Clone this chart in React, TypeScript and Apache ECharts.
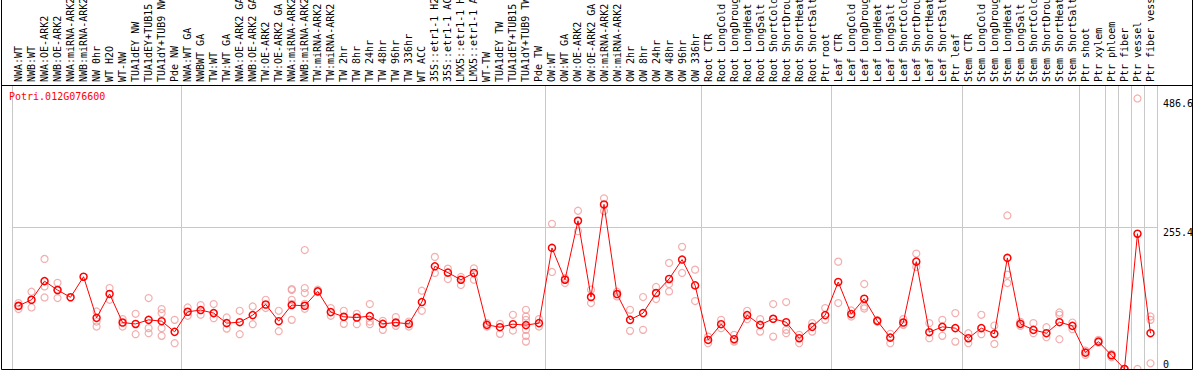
import React, { useEffect, useRef } from "react";
import * as echarts from "echarts";

const geneId = "Potri.012G076600";

const categories = [
  "NWA:WT", "NWB:WT", "NWA:OE-ARK2", "NWB:OE-ARK2", "NWA:miRNA-ARK2", "NWB:miRNA-ARK2",
  "NW 0hr", "WT H2O", "WT-NW", "TUA1dEY NW", "TUA1dEY+TUB15 NW", "TUA1dY+TUB9 NW", "Pde NW",
  "NWA:WT GA", "NWBWT GA", "TW:WT", "TW:WT GA", "NWA:OE-ARK2 GA", "NWB:OE-ARK2 GA",
  "TW:OE-ARK2", "TW:OE-ARK2 GA", "NWA:miRNA-ARK2", "NWB:miRNA-ARK2", "TW:miRNA-ARK2",
  "TW:miRNA-ARK2 ", "TW 2hr", "TW 8hr", "TW 24hr", "TW 48hr", "TW 96hr", "TW 336hr",
  "WT ACC", "35S::etr1-1 H2O", "35S::etr1-1 ACC", "LMX5::etr1-1 H2O", "LMX5::etr1-1 ACC",
  "WT-TW", "TUA1dEY TW", "TUA1dEY+TUB15 TW", "TUA1dY+TUB9 TW", "Pde TW",
  "OW:WT", "OW:WT GA", "OW:OE-ARK2", "OW:OE-ARK2 GA", "OW:miRNA-ARK2", "OW:miRNA-ARK2 ",
  "OW 2hr", "OW 8hr", "OW 24hr", "OW 48hr", "OW 96hr", "OW 336hr",
  "Root CTR", "Root LongCold", "Root LongDrought", "Root LongHeat", "Root LongSalt",
  "Root ShortCold", "Root ShortDrought", "Root ShortHeat", "Root ShortSalt", "Ptr root",
  "Leaf CTR", "Leaf LongCold", "Leaf LongDrought", "Leaf LongHeat", "Leaf LongSalt",
  "Leaf ShortCold", "Leaf ShortDrought", "Leaf ShortHeat", "Leaf ShortSalt", "Ptr leaf",
  "Stem CTR", "Stem LongCold", "Stem LongDrought", "Stem LongHeat", "Stem LongSalt",
  "Stem ShortCold", "Stem ShortDrought", "Stem ShortHeat", "Stem ShortSalt",
  "Ptr shoot", "Ptr xylem", "Ptr phloem", "Ptr fiber", "Ptr vessel", "Ptr fiber vessel",
];

const meanValues = [
  113.7, 124.5, 158, 142, 129, 166, 92, 135, 83.6, 81, 88.4, 86, 66.8,
  102.9, 106, 100.5, 82.5, 84.2, 96.9, 116, 86, 115, 113.7, 139.6, 102.3, 93.9, 92.6, 95.1,
  81.2, 83.6, 81.2, 120.4, 184.7, 173.3, 160.6, 172.7, 79.4, 75.2, 80.6, 78.9, 82.5,
  217.8, 160.6, 266.6, 129.4, 296, 134.8, 88.4, 100.5, 136.6, 161.9, 196.8, 150.4,
  52.3, 80.6, 53.6, 96.9, 79.4, 90.3, 84.2, 55.4, 75.8, 96.9,
  156.5, 98.7, 126.4, 86.6, 56.5, 83.6, 193.1, 66.2, 75.8, 73.5,
  55.4, 73.5, 63.2, 199.8, 81.2, 70.4, 64.4, 84.2, 77.6,
  29.4, 49.3, 24.7, 0, 243.3, 64.4,
];

const replicateValues: number[][] = [
  [118.6, 112.5, 107.8], [139, 110.7], [198, 148.6, 128.7], [155, 142.6, 127.6],
  [143.8, 124.5, 117.3], [214, 145.6, 136.6], [103.5, 85.4, 76.4], [145.6, 124.5],
  [89.7, 76.4], [99.3, 62.6], [127.6, 73.5, 64.4], [107.8, 100.5, 73.5, 59.6], [88.4, 46.4],
  [110.7, 95.7], [115, 97.5], [116.8, 100.5, 91.5], [92.6, 72.7], [104.7, 62.6], [112.5, 80.6],
  [124.5, 109.6], [104.7, 68], [142, 88.4], [117.3, 108.3], [142.6, 138.4], [109.6, 95.7],
  [104.7, 81.2], [99.3, 80.6], [116.8, 85.4, 80.6], [86.6, 81.2, 70.4], [93.3, 77.6],
  [85.4, 76.4], [140.8, 104.7], [201.6, 172.7], [180.5, 161.9], [165.5, 151], [181, 160.6],
  [82.5, 76.4], [81.2, 63.2], [97.5, 69.2], [106.5, 94.4, 88.4, 70.4, 59.6, 49.3], [89.7, 76.4],
  [261.2, 174.5], [163.6, 154.7], [284.6, 247.8], [142.6, 118.6], [306.9, 284], [139, 130.5],
  [106.5, 68.6], [129.4, 70.4], [147.5, 125.8], [190.8, 152.9, 139.5], [219.7, 172.7],
  [178.7, 122.2],
  [58.2, 46.4], [88.4, 73.5], [61.4, 49.3], [104.7, 89.7], [89.7, 67.3], [116.8, 58.3],
  [120.4, 70.4, 64.4], [61.4, 46.4], [82.5, 67.3], [109.6, 88.4],
  [193.1, 118.6], [105.2, 94.4], [152.9, 112.5, 108.8], [88, 85], [63.2, 46.4], [89.7, 79.4],
  [207.6, 183.6], [82.5, 55.4], [88.4, 59.6], [100.5, 49.3],
  [64.4, 46.4], [97.5, 62.6], [78.2, 45.1], [276.2, 169.7, 154.7], [84.8, 77.6], [82.5, 64.4],
  [75.2, 57.2], [101.6, 97.5, 53.6], [83.6, 71.7],
  [33, 25.3], [52.3, 47.5], [27.1, 21.1], [0, 0], [486.6, 0], [94.4, 88.4, 10.3],
];

// indices of the first category of each group (a separator is drawn before each)
const groupStarts = [0, 13, 41, 53, 63, 73, 82, 84, 85, 86, 87];

const yMax = 510.8;
const yStep = 255.4;
const yLabelsUpper = [255.4, 486.6];
const yLabelsLower = [0];

export default function App() {
  const ref = useRef<HTMLDivElement>(null);
  useEffect(() => {
    document.body.style.margin = "0";
    const chart = echarts.init(ref.current!, null, { renderer: "svg" });
    const font = "DejaVu Sans Mono";
    const gridColor = "#c8c8c8";
    const starts = new Set(groupStarts);
    const isStart = (i: number) => starts.has(i);
    const repData: [string, number][] = [];
    replicateValues.forEach((arr, i) => arr.forEach((v) => repData.push([categories[i], v])));

    const yBase = {
      type: "value",
      position: "right",
      min: 0,
      max: yMax,
      interval: yStep,
      axisLine: { show: false },
      axisTick: { show: false },
    };

    chart.setOption({
      animation: false,
      backgroundColor: "#ffffff",
      title: {
        text: geneId,
        left: 9,
        top: 91,
        padding: 0,
        textStyle: { color: "#ff0000", fontFamily: font, fontSize: 10, fontWeight: "normal" },
      },
      grid: { left: 12, right: 37, top: 85, bottom: 1, containLabel: false, outerBoundsMode: "none" },
      xAxis: {
        type: "category",
        data: categories,
        position: "top",
        boundaryGap: true,
        axisLine: { show: true, lineStyle: { color: "#000000", width: 1 } },
        axisTick: {
          show: true,
          interval: (i: number) => isStart(i),
          length: 86,
          lineStyle: { color: gridColor, width: 1 },
        },
        axisLabel: {
          interval: 0,
          rotate: 90,
          margin: 3,
          color: "#000000",
          fontFamily: font,
          fontSize: 10,
        },
        splitLine: {
          show: true,
          interval: (i: number) => isStart(i),
          lineStyle: { color: gridColor, width: 1 },
        },
      },
      yAxis: [
        {
          ...yBase,
          splitLine: { show: true, lineStyle: { color: gridColor, width: 1 } },
          axisLabel: {
            customValues: yLabelsUpper,
            verticalAlign: "top",
            margin: 6,
            color: "#000000",
            fontFamily: font,
            fontSize: 10,
            formatter: (v: number) => String(v),
          },
        },
        {
          ...yBase,
          splitLine: { show: false },
          axisLabel: {
            customValues: yLabelsLower,
            verticalAlign: "bottom",
            margin: 6,
            color: "#000000",
            fontFamily: font,
            fontSize: 10,
            formatter: (v: number) => String(v),
          },
        },
      ],
      series: [
        {
          type: "scatter",
          data: repData,
          symbol: "circle",
          symbolSize: 7,
          z: 1,
          itemStyle: { color: "rgba(0,0,0,0)", borderColor: "#f09a9a", borderWidth: 1.2 },
        },
        {
          type: "line",
          data: meanValues,
          symbol: "circle",
          symbolSize: 7,
          showAllSymbol: true,
          z: 3,
          lineStyle: { color: "#ff0000", width: 1 },
          itemStyle: { color: "rgba(0,0,0,0)", borderColor: "#ff0000", borderWidth: 1.5 },
        },
      ],
      graphic: [
        {
          type: "rect",
          shape: { x: 1.5, y: -5, width: 1191, height: 374.5 },
          style: { fill: "none", stroke: "#000000", lineWidth: 1 },
          silent: true,
          z: 100,
        },
        {
          type: "line",
          shape: { x1: 1.5, y1: 85.5, x2: 1192.5, y2: 85.5 },
          style: { stroke: "#000000", lineWidth: 1 },
          silent: true,
          z: 100,
        },
      ],
    });
    return () => chart.dispose();
  }, []);
  return <div ref={ref} style={{ width: 1194, height: 370 }} />;
}
